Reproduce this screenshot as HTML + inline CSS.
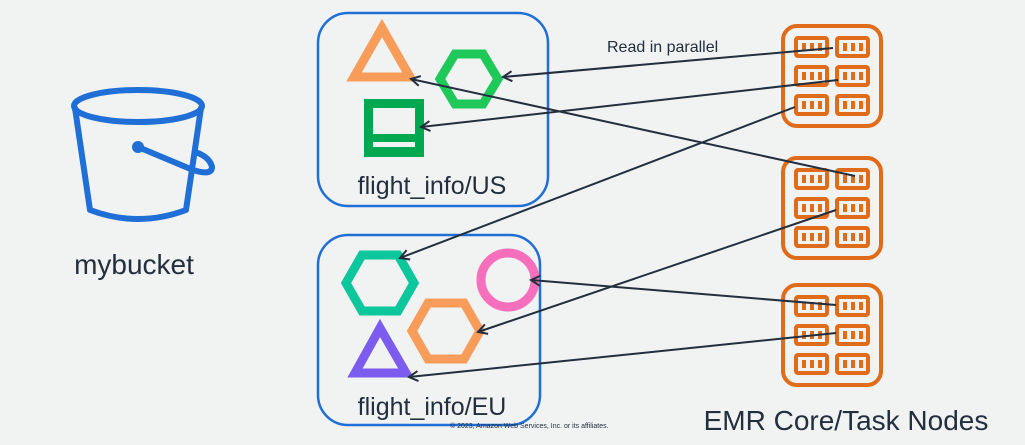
<!DOCTYPE html>
<html><head><meta charset="utf-8"><style>
html,body{margin:0;padding:0;background:#f1f2f2;}
svg{display:block;font-family:"Liberation Sans","DejaVu Sans",sans-serif;}
</style></head><body>
<svg width="1025" height="445" viewBox="0 0 1025 445" xmlns="http://www.w3.org/2000/svg">
<defs>
<marker id="ah" markerWidth="12" markerHeight="12" refX="10" refY="6" orient="auto" markerUnits="userSpaceOnUse">
<path d="M1,1 L10,6 L1,11" fill="none" stroke="#232f3e" stroke-width="2"/>
</marker>
<g id="node">
<rect x="2" y="2" width="98" height="100" rx="14" fill="none" stroke="#e06c1a" stroke-width="4"/>
<g fill="none" stroke="#e06c1a" stroke-width="4">
<rect x="15" y="14" width="31" height="18" rx="2"/><rect x="56" y="14" width="31" height="18" rx="2"/>
<rect x="15" y="43" width="31" height="18" rx="2"/><rect x="56" y="43" width="31" height="18" rx="2"/>
<rect x="15" y="72" width="31" height="18" rx="2"/><rect x="56" y="72" width="31" height="18" rx="2"/>
</g>
<g fill="#e06c1a">
<rect x="21" y="19" width="4" height="8"/><rect x="29" y="19" width="4" height="8"/><rect x="37" y="19" width="4" height="8"/>
<rect x="62" y="19" width="4" height="8"/><rect x="70" y="19" width="4" height="8"/><rect x="78" y="19" width="4" height="8"/>
<rect x="21" y="48" width="4" height="8"/><rect x="29" y="48" width="4" height="8"/><rect x="37" y="48" width="4" height="8"/>
<rect x="62" y="48" width="4" height="8"/><rect x="70" y="48" width="4" height="8"/><rect x="78" y="48" width="4" height="8"/>
<rect x="21" y="77" width="4" height="8"/><rect x="29" y="77" width="4" height="8"/><rect x="37" y="77" width="4" height="8"/>
<rect x="62" y="77" width="4" height="8"/><rect x="70" y="77" width="4" height="8"/><rect x="78" y="77" width="4" height="8"/>
</g>
</g>
</defs>

<!-- bucket -->
<g fill="none" stroke="#1f6fd6" stroke-width="6" stroke-linecap="round" stroke-linejoin="round">
<ellipse cx="138" cy="106" rx="64" ry="16"/>
<path d="M75,108 L90,210 Q138,228 186,210 L201,108"/>
<path d="M138,147 L193,170 Q212,176 212,167 Q210,158 198,153"/>
</g>
<circle cx="138" cy="147" r="6" fill="#1f6fd6"/>
<text x="134" y="274" font-size="28" fill="#232f3e" text-anchor="middle">mybucket</text>

<!-- boxes -->
<rect x="318" y="13" width="230" height="193" rx="30" fill="none" stroke="#1f6fd6" stroke-width="2.5"/>
<rect x="318" y="235" width="222" height="190" rx="30" fill="none" stroke="#1f6fd6" stroke-width="2.5"/>

<!-- US shapes -->
<polygon points="354,77 382,28 410,77" fill="none" stroke="#f89c59" stroke-width="9" stroke-linejoin="miter"/>
<polygon points="440,79 455,54 483,54 498,79 483,104 455,104" fill="none" stroke="#1ec95a" stroke-width="9"/>
<rect x="364" y="99" width="60" height="58" fill="#00a84f"/>
<rect x="373" y="108" width="42" height="26" fill="#f1f2f2"/>
<rect x="373" y="142" width="42" height="5" fill="#f1f2f2"/>
<text x="432" y="194" font-size="25" fill="#232f3e" text-anchor="middle">flight_info/US</text>

<!-- EU shapes -->
<polygon points="346,283 362,255 398,255 414,283 398,311 362,311" fill="none" stroke="#0cc69c" stroke-width="9"/>
<circle cx="508" cy="280" r="27" fill="none" stroke="#f66fbd" stroke-width="9"/>
<polygon points="412,331 428,303 464,303 480,331 464,359 428,359" fill="none" stroke="#f89c59" stroke-width="9"/>
<polygon points="355,373 380,328 406,373" fill="none" stroke="#7b5cef" stroke-width="9"/>
<text x="432" y="415" font-size="25" fill="#232f3e" text-anchor="middle">flight_info/EU</text>

<!-- nodes -->
<use href="#node" x="781" y="24"/>
<use href="#node" x="781" y="156"/>
<use href="#node" x="781" y="283"/>

<!-- arrows -->
<g stroke="#232f3e" stroke-width="2" fill="none" marker-end="url(#ah)">
<line x1="833" y1="48" x2="503" y2="77"/>
<line x1="838" y1="80" x2="421" y2="127"/>
<line x1="795" y1="107" x2="400" y2="258"/>
<line x1="855" y1="176" x2="411" y2="79"/>
<line x1="836" y1="210" x2="478" y2="332"/>
<line x1="836" y1="305" x2="531" y2="280"/>
<line x1="836" y1="333" x2="409" y2="377"/>
</g>

<text x="607" y="52" font-size="16" fill="#232f3e">Read in parallel</text>
<text x="846" y="430" font-size="28" fill="#232f3e" text-anchor="middle">EMR Core/Task Nodes</text>
<text x="450" y="428" font-size="7" fill="#232f3e">© 2023, Amazon Web Services, Inc. or its affiliates.</text>
</svg>
</body></html>
